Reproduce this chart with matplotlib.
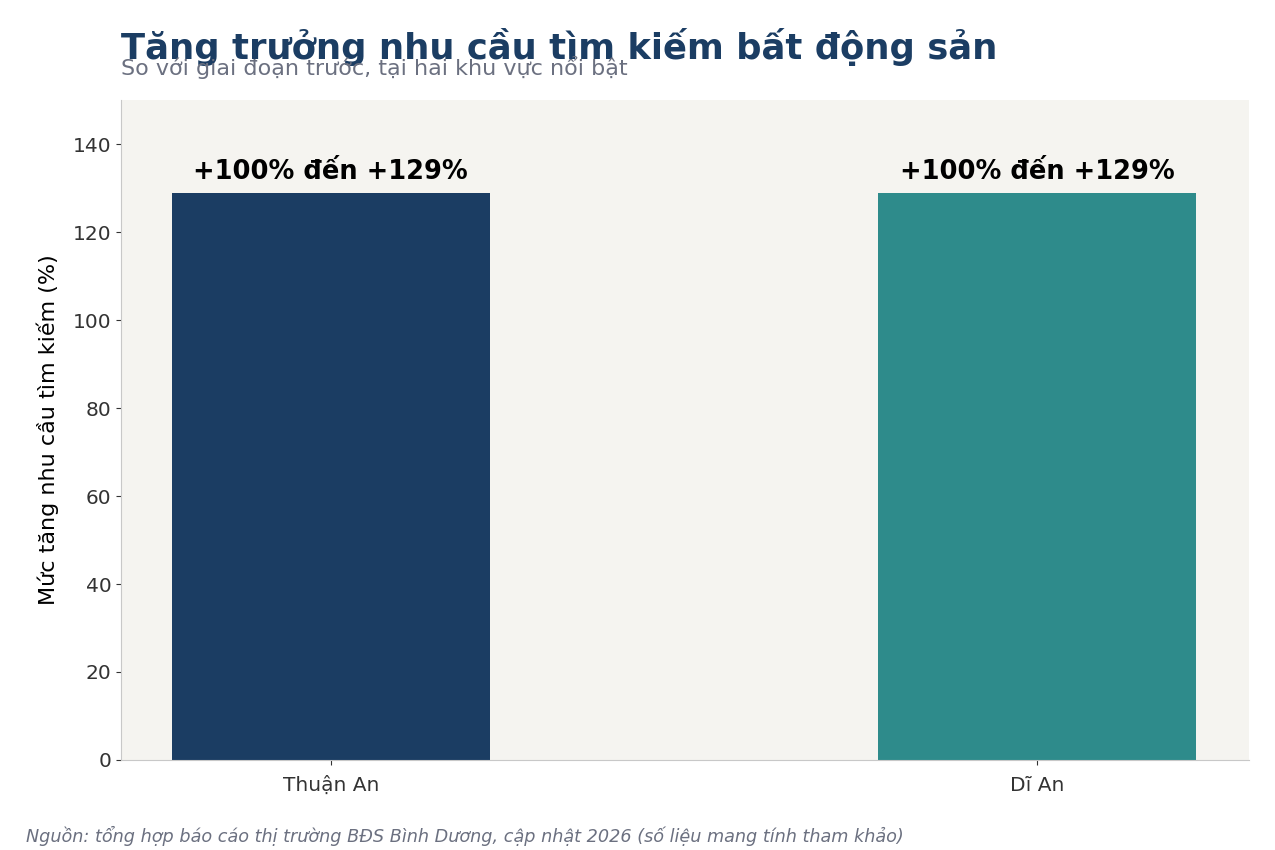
import matplotlib
matplotlib.use("Agg")
import matplotlib.pyplot as plt

# Dữ liệu
khu_vuc = ["Thuận An", "Dĩ An"]
muc_tang = [129, 129]
nhan = ["+100% đến +129%", "+100% đến +129%"]
mau = ["#1b3d63", "#2e8b8b"]

fig = plt.figure(figsize=(12.75, 8.5), dpi=100)
ax = fig.add_axes([0.0949, 0.106, 0.885, 0.776])
ax.set_facecolor("#f5f4f0")

x = range(len(khu_vuc))
bars = ax.bar(x, muc_tang, width=0.45, color=mau)
for b, t in zip(bars, nhan):
    ax.text(b.get_x() + b.get_width() / 2, b.get_height() + 1.8, t,
            ha="center", va="bottom", fontsize=18.5, fontweight="bold", color="black")

ax.set_xticks(list(x))
ax.set_xticklabels(khu_vuc, fontsize=14.5, color="#333333")
ax.set_xlim(-0.297, 1.30)
ax.set_ylim(0, 150)
ax.set_yticks(range(0, 141, 20))
ax.tick_params(axis="y", labelsize=14.5, colors="#333333")
ax.tick_params(axis="x", colors="#333333", pad=8)
ax.set_ylabel("Mức tăng nhu cầu tìm kiếm (%)", fontsize=16, labelpad=10)
for s in ["top", "right"]:
    ax.spines[s].set_visible(False)
for s in ["left", "bottom"]:
    ax.spines[s].set_color("#c8c8c8")

fig.text(0.0949, 0.945, "Tăng trưởng nhu cầu tìm kiếm bất động sản",
         fontsize=25.5, fontweight="bold", color="#1b3d63", va="center")
fig.text(0.0949, 0.921, "So với giai đoạn trước, tại hai khu vực nổi bật",
         fontsize=16, color="#6b7080", va="center")
fig.text(0.02, 0.016, "Nguồn: tổng hợp báo cáo thị trường BĐS Bình Dương, cập nhật 2026 (số liệu mang tính tham khảo)",
         fontsize=12.7, style="italic", color="#6b7080", va="center")

fig.savefig("out.png", dpi=100)
